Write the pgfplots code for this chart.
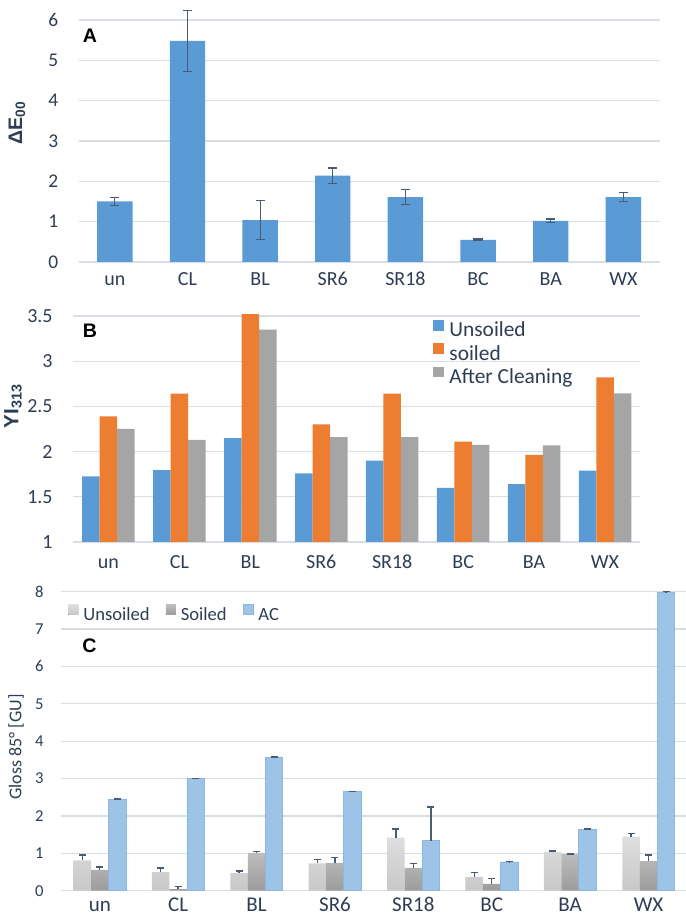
\documentclass[border=0pt]{standalone}
\usepackage{fontspec}
\setmainfont{Carlito}
\newfontfamily\arialfont{Liberation Sans}
\usepackage{pgfplots}
\pgfplotsset{compat=1.18}

\definecolor{txt}{HTML}{2E3D55}
\definecolor{gridc}{HTML}{D9DEE6}
\definecolor{errc}{HTML}{4A5B73}
\definecolor{xlblue}{HTML}{5B9BD5}
\definecolor{xlorange}{HTML}{ED7D31}
\definecolor{xlgray}{HTML}{A5A5A5}
\definecolor{acblue}{HTML}{9DC3E6}
\definecolor{acedge}{HTML}{8DB6E0}
\definecolor{ltop}{HTML}{DEDEDE}
\definecolor{lbot}{HTML}{C8C8C8}
\definecolor{dtop}{HTML}{BDBDBD}
\definecolor{dbot}{HTML}{9C9C9C}

\pgfplotsset{
  panel/.style={
    scale only axis,
    axis line style={draw=none},
    major tick length=0pt,
    ymajorgrids, grid style={gridc, line width=0.6pt},
    xmin=-0.5, xmax=7.5, xtick={0,...,7},
    xticklabels={un,CL,BL,SR6,SR18,BC,BA,WX},
    tick label style={text=txt},
    yticklabel style={anchor=east, inner sep=0pt},
    xticklabel style={anchor=base, inner sep=0pt},
    /pgf/number format/assume math mode=true,
    clip=false,
  },
  bigsq/.style={
    legend image code/.code={\fill[##1] (0pt,0.6pt) rectangle (5.5pt,5.9pt);},
  },
  smallsq/.style={
    legend image code/.code={\fill[##1] (0pt,0.5pt) rectangle (5pt,5.5pt);},
  }
}

\begin{document}
\begin{tikzpicture}
\useasboundingbox (0,0) rectangle (342.5pt,460pt);

% ---- A: colour difference
\begin{axis}[panel,
    at={(39.25pt,329pt)}, anchor=south west,
    width=290.6pt, height=121pt,
    ymin=0, ymax=6, ytick={0,...,6},
    yticklabel style={font=\fontsize{9.7}{11}\selectfont, xshift=-10pt},
    xticklabel style={font=\fontsize{10}{12}\selectfont, yshift=-11.85pt},
    error bars/y dir=both, error bars/y explicit,
    error bars/error bar style={errc, line width=0.55pt},
    error bars/error mark options={errc, rotate=90, mark size=2.3pt, line width=0.55pt},
]
\addplot[ybar, bar width=17.7pt, fill=xlblue, draw=none] coordinates {
  (0,1.50) +- (0,0.10)
  (1,5.48) +- (0,0.75)
  (2,1.04) +- (0,0.49)
  (3,2.14) +- (0,0.19)
  (4,1.61) +- (0,0.18)
  (5,0.55) +- (0,0.02)
  (6,1.02) +- (0,0.045)
  (7,1.61) +- (0,0.115)
};
\end{axis}
\node[font=\arialfont\bfseries\fontsize{9.8}{11}\selectfont] at (45pt,442pt) {A};
\node[rotate=90, text=txt, font=\arialfont\bfseries\fontsize{9.8}{11}\selectfont] at (8.5pt,398.5pt) {ΔE\textsubscript{00}};

% ---- B: yellowness index
\begin{axis}[panel, clip=true,
    at={(36.5pt,189pt)}, anchor=south west,
    width=283.75pt, height=115.26pt,
    ymin=1, ymax=3.55, ytick={1,1.5,...,3.5},
    yticklabel style={font=\fontsize{10}{12}\selectfont, xshift=-10pt},
    xticklabel style={font=\fontsize{10}{12}\selectfont, yshift=-13.5pt},
    ybar=0pt, bar width=8.75pt,
    legend style={draw=none, fill=none, inner sep=0pt,
      at={(0.6335,0.9648)}, anchor=north west,
      font=\fontsize{10.7}{12}\selectfont, text=txt, row sep=0.8pt,
      nodes={inner sep=0pt, text height=7.5pt, text depth=2.5pt},
      /tikz/every odd column/.append style={column sep=2.75pt}},
    legend cell align=left,
]
\addplot[fill=xlblue, draw=none, bigsq] coordinates {
  (0,1.725) (1,1.795) (2,2.15) (3,1.76) (4,1.90) (5,1.60) (6,1.64) (7,1.79)};
\addplot[fill=xlorange, draw=none, bigsq] coordinates {
  (0,2.39) (1,2.64) (2,3.52) (3,2.30) (4,2.64) (5,2.11) (6,1.965) (7,2.82)};
\addplot[fill=xlgray, draw=none, bigsq] coordinates {
  (0,2.25) (1,2.13) (2,3.35) (3,2.16) (4,2.16) (5,2.075) (6,2.07) (7,2.645)};
\legend{Unsoiled, soiled, After Cleaning}
\end{axis}
\node[font=\arialfont\bfseries\fontsize{9.8}{11}\selectfont] at (45pt,294.5pt) {B};
\node[rotate=90, text=txt, font=\arialfont\bfseries\fontsize{10.3}{12}\selectfont] at (6.5pt,257pt) {YI\textsubscript{313}};

% ---- C: gloss
\begin{axis}[panel,
    at={(30.3pt,14.65pt)}, anchor=south west,
    width=313.55pt, height=149.5pt,
    ymin=0, ymax=8, ytick={0,...,8},
    yticklabel style={font=\fontsize{8.3}{10}\selectfont, xshift=-8.3pt},
    xticklabel style={font=\fontsize{10.5}{12}\selectfont, yshift=-10.5pt},
    ybar=0pt, bar width=8.75pt,
    error bars/y dir=plus, error bars/y explicit,
    error bars/error bar style={errc, line width=0.7pt},
    error bars/error mark options={errc, rotate=90, mark size=1.75pt, line width=0.7pt},
    legend columns=3,
    legend style={draw=none, fill=none, inner sep=0pt,
      at={(0.0118,0.9589)}, anchor=north west,
      font=\fontsize{9.3}{11}\selectfont, text=txt,
      nodes={inner sep=0pt, text height=7pt, text depth=2pt},
      /tikz/every odd column/.append style={column sep=2.5pt},
      /tikz/every even column/.append style={column sep=8pt}},
]
\addplot[top color=ltop, bottom color=lbot, draw=none, smallsq] coordinates {
  (0,0.81) +- (0,0.14)
  (1,0.50) +- (0,0.11)
  (2,0.47) +- (0,0.06)
  (3,0.73) +- (0,0.10)
  (4,1.42) +- (0,0.23)
  (5,0.37) +- (0,0.11)
  (6,1.04) +- (0,0.02)
  (7,1.45) +- (0,0.08)
};
\addplot[top color=dtop, bottom color=dbot, draw=none, smallsq] coordinates {
  (0,0.56) +- (0,0.07)
  (1,0.04) +- (0,0.07)
  (2,1.01) +- (0,0.04)
  (3,0.74) +- (0,0.15)
  (4,0.61) +- (0,0.11)
  (5,0.18) +- (0,0.15)
  (6,0.98) +- (0,0.005)
  (7,0.79) +- (0,0.16)
};
\addplot[fill=acblue, draw=acedge, line width=0.4pt, smallsq] coordinates {
  (0,2.44) +- (0,0.01)
  (1,3.00) +- (0,0.01)
  (2,3.57) +- (0,0.01)
  (3,2.65) +- (0,0.01)
  (4,1.34) +- (0,0.90)
  (5,0.77) +- (0,0.01)
  (6,1.64) +- (0,0.01)
  (7,7.99) +- (0,0.01)
};
\legend{Unsoiled, Soiled, AC}
\end{axis}
\node[font=\arialfont\bfseries\fontsize{9.8}{11}\selectfont] at (44.75pt,137pt) {C};
\node[rotate=90, text=txt, font=\fontsize{9}{11}\selectfont] at (8pt,86.5pt) {Gloss 85° [GU]};
\end{tikzpicture}
\end{document}
